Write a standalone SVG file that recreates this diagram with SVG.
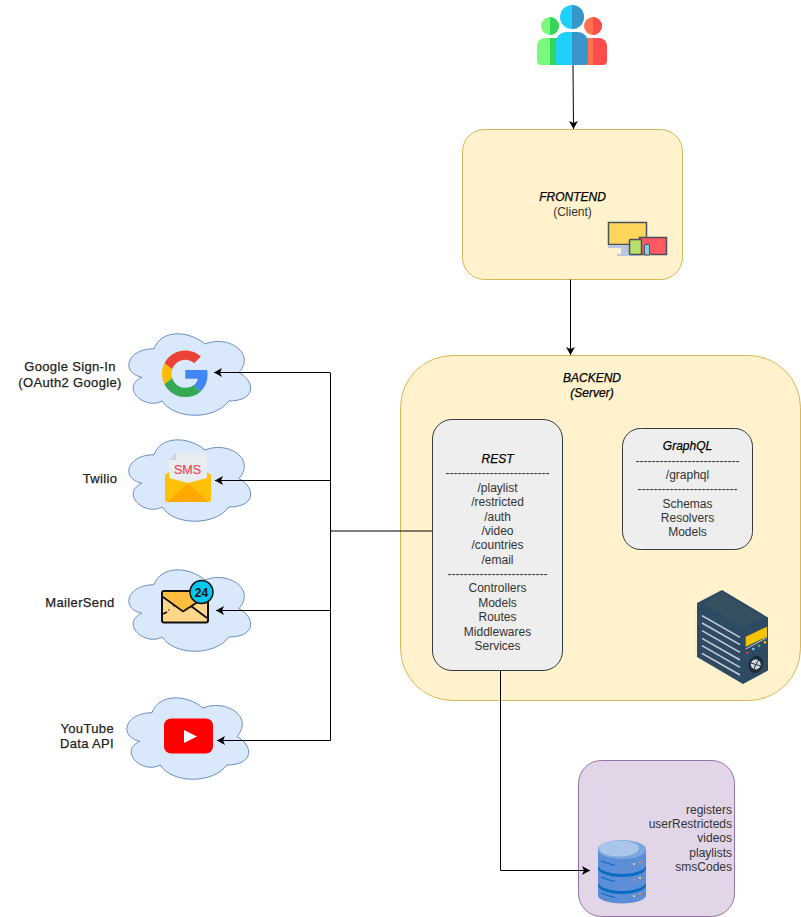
<svg xmlns="http://www.w3.org/2000/svg" width="801" height="917" viewBox="0 0 801 917">
<style>
text{font-family:"Liberation Sans",Arial,sans-serif;font-size:12px;text-anchor:middle;fill:#333}
.k{fill:#000;stroke:#000;stroke-width:.25px}
.i{font-style:italic}
.r{text-anchor:end}
.l{font-size:13px;letter-spacing:.35px;fill:#222;stroke:#222;stroke-width:.25px}
.y{fill:#fff2cc;stroke:#d6b656}
.g{fill:#eee;stroke:#36393d}
.p{fill:#e1d5e7;stroke:#9673a6}
.c{fill:#dae8fc;stroke:#6c8ebf}
.e{fill:none;stroke:#000;stroke-width:1}
.v{fill:none;stroke:#c9d0d6;stroke-width:1.5}
</style>
<defs>
<marker id="a" markerUnits="userSpaceOnUse" markerWidth="9" markerHeight="10" refX="8" refY="4.5" orient="auto"><path d="M8 4.500 0 0 2 4.500 0 9z" fill="#000"/></marker>
<path id="cloud" d="M34 23.750C6.800 23.750 0 47.500 21.760 52.250C0 62.700 24.480 85.500 42.160 76C54.400 95 95.200 95 108.800 76C136 76 136 57 119 47.500C136 28.500 108.800 9.500 85 19C68 4.750 40.800 4.750 34 23.750Z"/>
</defs>
<rect width="801" height="917" fill="#fff"/>

<g id="backend">
<rect class="y" x="400.500" y="355.500" width="400" height="345" rx="52"/>
<text class="k i" x="592" y="382">BACKEND</text>
<text class="k i" x="592" y="397">(Server)</text>
<g id="server-icon">
<path d="M722 590 768 617.500V670.500L743 684 697 657V603Z" fill="#2f4a63"/>
<path d="M722 593 762 617 743 627.500 703 604Z" fill="#37505f"/>
<path class="v" d="M702 615.700 740 637.400M702 623 740 644.700M702 630.700 740 652.400M702 638.300 740 660M702 645.700 740 667.400M702 653.300 740 675"/>
<path d="M745.700 636.700 767 626.700V636.700L745.700 646.700Z" fill="#f5c400"/>
<path d="M745.700 649 766.700 637.700" fill="none" stroke="#c9d0d6"/>
<circle cx="747.300" cy="652.700" r="1.300" fill="#e8413c"/><circle cx="753.300" cy="649" r="1.300" fill="#6fd3f5"/><circle cx="759" cy="645.700" r="1.300" fill="#3fc46a"/><circle cx="765" cy="642.300" r="1.300" fill="#f5c400"/>
<ellipse cx="755.700" cy="664.500" rx="7" ry="9" transform="rotate(20 755.700 664.500)" fill="#1f2d3a"/>
<circle cx="755.700" cy="664.500" r="5" fill="#d5dade"/><path d="M755.700 664.500 758.700 660M755.700 664.500 760.700 666M755.700 664.500 753.700 670M755.700 664.500 750.700 663" stroke="#1f2d3a" fill="none"/>
</g>
</g>

<g id="rest">
<rect class="g" x="432.500" y="419.500" width="130" height="251" rx="19.500"/>
<text class="k i" x="497.500" y="463">REST</text>
<text x="497.500" y="477">--------------------------</text>
<text x="497.500" y="492">/playlist</text>
<text x="497.500" y="506">/restricted</text>
<text x="497.500" y="521">/auth</text>
<text x="497.500" y="535">/video</text>
<text x="497.500" y="549">/countries</text>
<text x="497.500" y="564">/email</text>
<text x="497.500" y="578">-------------------------</text>
<text x="497.500" y="592">Controllers</text>
<text x="497.500" y="607">Models</text>
<text x="497.500" y="621">Routes</text>
<text x="497.500" y="636">Middlewares</text>
<text x="497.500" y="650">Services</text>
</g>

<g id="graphql">
<rect class="g" x="622.500" y="428.500" width="130" height="121" rx="18"/>
<text class="k i" x="687.500" y="450">GraphQL</text>
<text x="687.500" y="465">--------------------------</text>
<text x="687.500" y="479">/graphql</text>
<text x="687.500" y="493">-------------------------</text>
<text x="687.500" y="508">Schemas</text>
<text x="687.500" y="522">Resolvers</text>
<text x="687.500" y="536">Models</text>
</g>

<g id="frontend">
<rect class="y" x="462.500" y="129.500" width="220" height="150" rx="22"/>
<text class="k i" x="572.500" y="201">FRONTEND</text>
<text x="572.500" y="216">(Client)</text>
<g id="devices-icon">
<path d="M621 245h13v9h5v2h-22v-2h4z" fill="#b9c6dd"/>
<rect x="608.500" y="222.500" width="38" height="22" fill="#ffd65c" stroke="#4c4f5c" stroke-width="1.500"/>
<path d="M608 245h30v3h-30z" fill="#b9c6dd"/>
<rect x="639.500" y="237.500" width="27" height="17" fill="#ff5a63" stroke="#4c4f5c" stroke-width="1.500"/>
<rect x="629.500" y="239.500" width="12" height="15" rx="1" fill="#b5e06c" stroke="#4c4f5c" stroke-width="1.500"/>
<rect x="644.500" y="244.500" width="5" height="10.500" rx=".5" fill="#7fd4ea" stroke="#4c4f5c"/>
</g>
</g>

<g id="users">
<circle cx="550" cy="26" r="9" fill="#7cf97c"/>
<path d="M550 17a9 9 0 0 1 0 18z" fill="#33d45c"/>
<path d="M545 38h5v27h-9a4 4 0 0 1-4-4V46a8 8 0 0 1 8-8z" fill="#7cf97c"/>
<path d="M550 38h10v27h-10z" fill="#33d45c"/>
<circle cx="593" cy="26" r="9" fill="#ff7250"/>
<path d="M593 17a9 9 0 0 1 0 18z" fill="#ff4d4d"/>
<path d="M586 38h7v27h-9z" fill="#ff7250"/>
<path d="M593 38h6a8 8 0 0 1 8 8v15a4 4 0 0 1-4 4h-10z" fill="#ff4d4d"/>
<circle cx="572" cy="17" r="12" fill="#1dd1fb"/>
<path d="M572 5a12 12 0 0 1 0 24z" fill="#3a96c8"/>
<path d="M566 32h6v33h-12a4 4 0 0 1-4-4V42a10 10 0 0 1 10-10z" fill="#1dd1fb"/>
<path d="M572 32h6a10 10 0 0 1 10 10v19a4 4 0 0 1-4 4h-12z" fill="#3a96c8"/>
</g>

<g id="google">
<use href="#cloud" class="c" x="120" y="325"/>
<text class="l" x="70" y="371">Google Sign-In</text>
<text class="l" x="70" y="387">(OAuth2 Google)</text>
<g transform="translate(162 350.500) scale(.97)">
<path fill="#ea4335" d="M24 9.500c3.540 0 6.710 1.220 9.210 3.600l6.850-6.850C35.900 2.380 30.470 0 24 0 14.620 0 6.510 5.380 2.560 13.220l7.980 6.190C12.430 13.720 17.740 9.500 24 9.500z"/>
<path fill="#4285f4" d="M46.980 24.550c0-1.570-.15-3.090-.38-4.550H24v9.020h12.940c-.58 2.960-2.260 5.480-4.780 7.180l7.730 6c4.510-4.180 7.090-10.360 7.090-17.650z"/>
<path fill="#fbbc05" d="M10.530 28.590c-.48-1.450-.76-2.990-.76-4.590s.27-3.140.76-4.590l-7.980-6.190C.92 16.460 0 20.120 0 24c0 3.880.92 7.540 2.560 10.780l7.970-6.190z"/>
<path fill="#34a853" d="M24 48c6.480 0 11.930-2.130 15.890-5.810l-7.730-6c-2.150 1.450-4.920 2.300-8.160 2.300-6.260 0-11.570-4.220-13.470-9.910l-7.980 6.190C6.510 42.620 14.620 48 24 48z"/>
</g>
</g>

<g id="twilio">
<use href="#cloud" class="c" x="120" y="431"/>
<text class="l" x="100" y="483">Twilio</text>
<path d="M165 475 169 472H207L211 475V500a2 2 0 0 1-2 2H167a2 2 0 0 1-2-2Z" fill="#ffc107"/>
<path d="M176 453H207V478L188 483 169 478V460Z" fill="#e9edf2"/>
<path d="M176 453V460H169Z" fill="#ccd3dc"/>
<path d="M167 502 186 485Q188 483 190 485L209 502Z" fill="#ffa900"/>
<text x="187.500" y="474" style="fill:#f0444f;font-size:12.500px;stroke:#f0444f;stroke-width:.2px">SMS</text>
</g>

<g id="mailersend">
<use href="#cloud" class="c" x="120" y="561"/>
<text class="l" x="80" y="607">MailerSend</text>
<rect x="162" y="591" width="46" height="31.500" rx="2" fill="#ffd68a" stroke="#111" stroke-width="2"/>
<path d="M163 592H207V597L185 612 163 597Z" fill="#ffbe3f"/>
<path d="M163 597 183 611.500 207 596M191 606 207 618M163 614 167 612" fill="none" stroke="#111" stroke-width="1.800"/>
<path d="M168 610h1.500M173 606h1.500" stroke="#111" fill="none"/>
<circle cx="201.500" cy="592" r="11.500" fill="#00c8f0" stroke="#111" stroke-width="1.500"/>
<text x="201.500" y="596.500" style="fill:#111;font-weight:700;font-size:12px">24</text>
</g>

<g id="youtube">
<use href="#cloud" class="c" x="118" y="689"/>
<text class="l r" x="114" y="733">YouTube</text>
<text class="l r" x="114" y="748">Data API</text>
<rect x="164" y="718.500" width="49" height="35" rx="7" fill="#f00"/>
<path d="M184 730 197 736.500 184 743Z" fill="#fff"/>
</g>

<g id="database">
<rect class="p" x="578.500" y="760.500" width="156" height="156" rx="23"/>
<text class="r" x="732" y="814">registers</text>
<text class="r" x="732" y="828">userRestricteds</text>
<text class="r" x="732" y="842">videos</text>
<text class="r" x="732" y="857">playlists</text>
<text class="r" x="732" y="871">smsCodes</text>
<g id="db-icon">
<path d="M598 849.500v46c0 4 10 8 24 8s24-4 24-8v-46z" fill="#5b8ed6"/>
<path d="M598 865.500v3c0 4 10 8.500 24 8.500s24-4.500 24-8.500v-3c0 4-10 8.500-24 8.500s-24-4.500-24-8.500zM598 882.500v3c0 4 10 8.500 24 8.500s24-4.500 24-8.500v-3c0 4-10 8.500-24 8.500s-24-4.500-24-8.500z" fill="#0a6bc4"/>
<ellipse cx="622" cy="849.500" rx="24" ry="9.500" fill="#7ba6e0"/>
<ellipse cx="619" cy="848.500" rx="20" ry="8" fill="#a9c6ea"/>
<path d="M601 861Q608 863.500 615 865.500M601 877Q608 880 615 881.500M601 893Q608 896 615 897.500" stroke="#0a6bc4" stroke-width="1.200" fill="none"/>
<path d="M633 864h2M633 896h2M639 878h2" stroke="#f2cf5b" stroke-width="2" fill="none"/>
<path d="M639 862h2M633 880h2M639 894h2" stroke="#e8886a" stroke-width="2" fill="none"/>
</g>
</g>

<g id="connectors">
<path class="e" d="M573 65 573.500 129" marker-end="url(#a)"/>
<path class="e" d="M570.500 279.500V355" marker-end="url(#a)"/>
<path class="e" d="M432 531H330.500"/>
<path class="e" d="M330.500 373V740.500"/>
<path class="e" d="M330.500 372.500H214" marker-end="url(#a)"/>
<path class="e" d="M330.500 480.500H215" marker-end="url(#a)"/>
<path class="e" d="M330.500 610.500H216" marker-end="url(#a)"/>
<path class="e" d="M330.500 740.500H217" marker-end="url(#a)"/>
<path class="e" d="M500.500 671V870.500H590" marker-end="url(#a)"/>
</g>
</svg>
